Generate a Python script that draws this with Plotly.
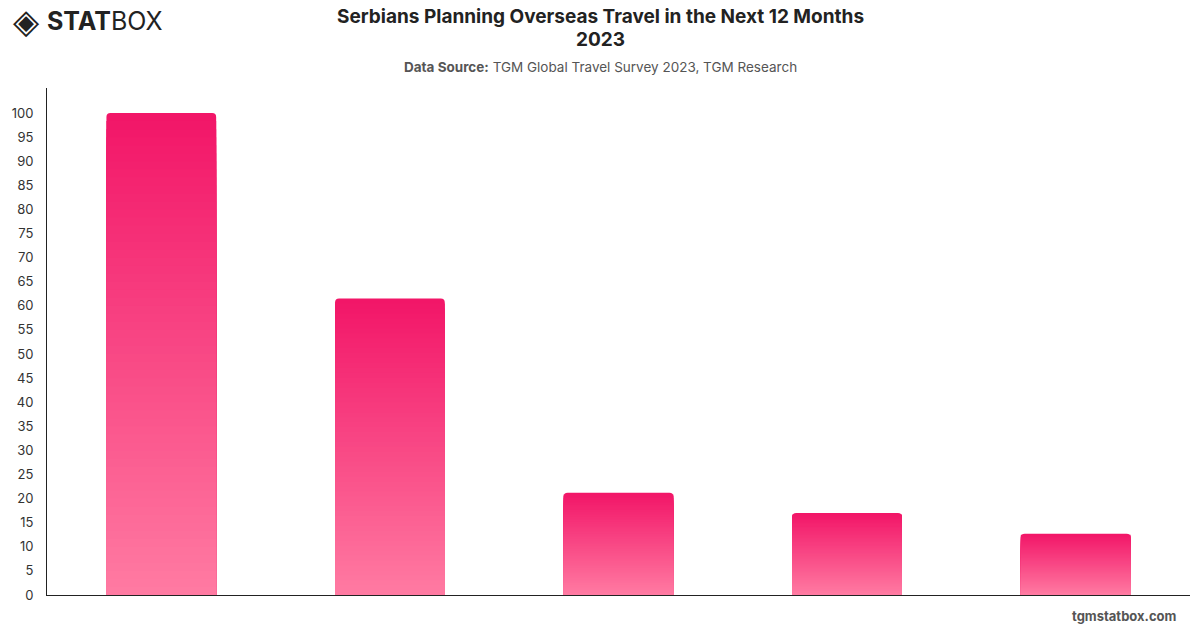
import plotly.graph_objects as go

categories = ["Category 1", "Category 2", "Category 3", "Category 4", "Category 5"]
values = [100, 61.5, 21.2, 17.0, 12.7]
y_ticks = list(range(0, 101, 5))

TOP = (242, 22, 104)
BOTTOM = (255, 122, 162)
N = 60

W, H = 1200, 628
ML, MR, MT, MB = 47, 10, 88, 33
PW, PH = W - ML - MR, H - MT - MB


def px(x):
    return (x - ML) / PW


def py(y):
    return (H - MB - y) / PH


fig = go.Figure()
for k in range(N):
    frac = 1 - k / N
    t = k / (N - 1)
    c = tuple(round(TOP[i] + (BOTTOM[i] - TOP[i]) * t) for i in range(3))
    fig.add_trace(go.Bar(
        x=categories,
        y=[v * frac for v in values],
        width=0.48,
        marker=dict(color=f"rgb{c}", line=dict(width=0),
                    cornerradius=4 if k == 0 else 0),
        hoverinfo="skip" if k else "x+y",
        showlegend=False,
    ))

FONT = "Inter, 'Open Sans', sans-serif"

fig.update_layout(
    width=W, height=H,
    barmode="overlay",
    paper_bgcolor="white", plot_bgcolor="white",
    margin=dict(l=ML, r=MR, t=MT, b=MB),
    font=dict(family=FONT, color="#333"),
    xaxis=dict(showticklabels=False, showgrid=False, showline=True,
               linecolor="#222", linewidth=1, ticks="", zeroline=False,
               range=[-0.5, 4.5]),
    yaxis=dict(range=[0, 105.2], tickvals=y_ticks, showgrid=False,
               showline=True, linecolor="#222", linewidth=1, zeroline=False,
               tickfont=dict(size=13, color="#333"), ticks="", ticklabelstandoff=10),
    annotations=[
        dict(text="<b>Serbians Planning Overseas Travel in the Next 12 Months</b>",
             x=px(600), y=py(17), xref="paper", yref="paper", showarrow=False,
             yanchor="middle", font=dict(size=19, color="#222")),
        dict(text="<b>2023</b>",
             x=px(600), y=py(40), xref="paper", yref="paper", showarrow=False,
             yanchor="middle", font=dict(size=19, color="#222")),
        dict(text="<b>Data Source:</b> TGM Global Travel Survey 2023, TGM Research",
             x=px(600), y=py(67), xref="paper", yref="paper", showarrow=False,
             yanchor="middle", font=dict(size=13.5, color="#555")),
        dict(text="<b>tgmstatbox.com</b>", x=px(1179), y=py(616), xref="paper", yref="paper",
             showarrow=False, xanchor="right", yanchor="middle",
             font=dict(size=13, color="#555")),
        dict(text="<b>STAT</b>BOX", x=px(45), y=py(21), xref="paper", yref="paper",
             xanchor="left", yanchor="middle", showarrow=False,
             font=dict(size=25, color="#222", family=FONT)),
        dict(text="◈", x=px(42), y=py(21), xref="paper", yref="paper",
             showarrow=False, xanchor="right", yanchor="middle",
             font=dict(size=34, color="#222", family="DejaVu Sans")),
    ],
)

fig.write_html("out.html")
